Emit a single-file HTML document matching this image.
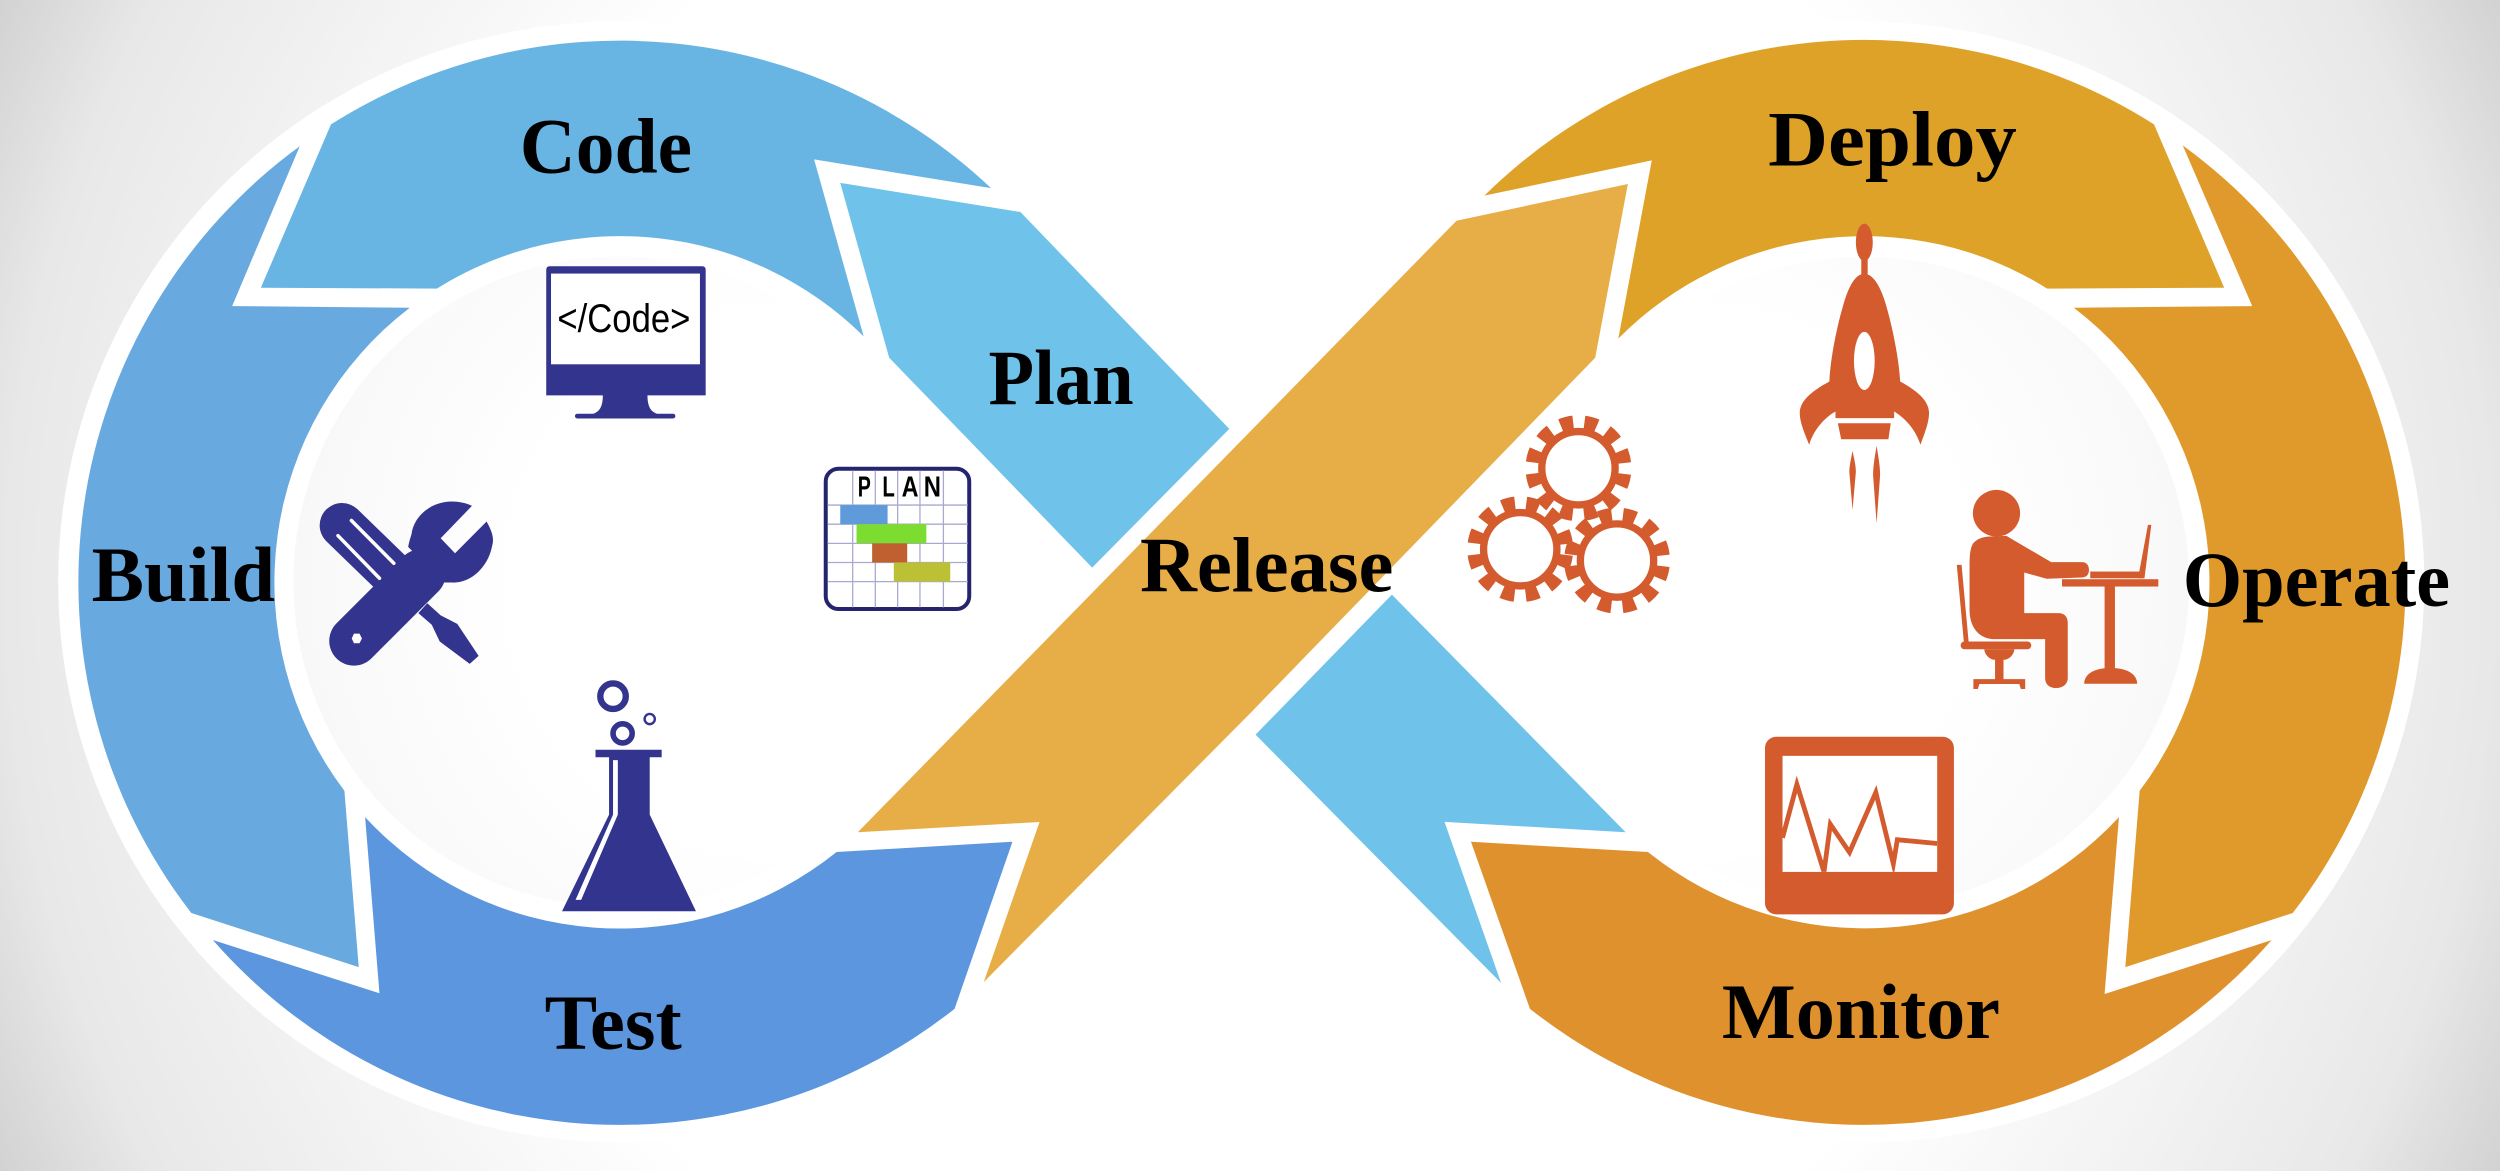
<!DOCTYPE html>
<html>
<head>
<meta charset="utf-8">
<title>DevOps lifecycle</title>
<style>
html,body{margin:0;padding:0;width:2500px;height:1171px;overflow:hidden;background:#fff}
.bg{position:absolute;left:0;top:0;width:2500px;height:1171px;background:radial-gradient(circle farthest-corner at center,#fff 58%,#e8e8e8 90%,#d2d2d2 100%)}
svg{position:absolute;left:0;top:0}
.t{font-family:"Liberation Serif",serif;font-weight:bold;font-size:49px;fill:#000}
.p{font-family:"Liberation Sans",sans-serif;font-weight:bold;font-size:18px;fill:#000}
</style>
</head>
<body>
<div class="bg"></div>
<svg width="2500" height="1171" viewBox="0 0 1568 734.5" preserveAspectRatio="none">
<defs>
<radialGradient id="gl" gradientUnits="userSpaceOnUse" cx="490" cy="365" r="306">
<stop offset="0.55" stop-color="#fff"/><stop offset="1" stop-color="#f8f8f8"/></radialGradient>
<radialGradient id="gr" gradientUnits="userSpaceOnUse" cx="1067" cy="365" r="306">
<stop offset="0.55" stop-color="#fff"/><stop offset="1" stop-color="#f8f8f8"/></radialGradient>
<clipPath id="scr"><rect x="1118" y="474.1" width="97" height="72.8"/></clipPath>
</defs>

<!-- halo -->
<circle cx="388" cy="365" r="351.5" fill="#fff"/>
<circle cx="1169" cy="365" r="351.5" fill="#fff"/>
<circle cx="388" cy="365" r="204" fill="url(#gl)"/>
<circle cx="1169" cy="365" r="204" fill="url(#gr)"/>

<!-- left lobe -->
<path fill="#68b5e4" d="M207.6 78A339 339 0 0 1 621.6 118L510.6 100L541.7 211A217 217 0 0 0 274 181L163.6 180.5Z"/>
<path fill="#6fc2e9" d="M527 114.7L640 133L771 269L685 356L557.7 224.4Z"/>
<path fill="#68a9e0" d="M188 91.7L145.6 192L257 193A217 217 0 0 0 216 496L225 606.6L120 572.7A339 339 0 0 1 188 91.7Z"/>
<path fill="#5c96df" d="M133.5 589.6L238 623L229 512.5A217 217 0 0 0 524.7 534.4L635 528L598.7 632.8A339 339 0 0 1 133.5 589.6Z"/>

<!-- centre -->
<path fill="#e7ae48" d="M913.5 138.5L1021 115.4L1000.5 224.4L784 447.5L617 616L652 515.6L538 522Z"/>
<path fill="#6fc2e9" d="M873 373L1019.6 522L906 515.5L941.5 616.6L787.5 460.8Z"/>

<!-- right lobe -->
<path fill="#dfa229" d="M931 122.7A339 339 0 0 1 1351 78L1395 180.5L1284 181A217 217 0 0 0 1015 212.4L1036 100.6Z"/>
<path fill="#e09a2b" d="M1369 91.2L1412.6 192L1300.7 193A217 217 0 0 1 1342 496L1333 606.6L1438 572.7A339 339 0 0 0 1369 91.2Z"/>
<path fill="#df912e" d="M922.6 528L1033.6 534.4A217 217 0 0 0 1329 512.5L1320 623.5L1424.7 589.7A339 339 0 0 1 959.6 632.8Z"/>

<!-- monitor (code) icon -->
<path fill="#33348e" d="M342.6 169a2 2 0 0 1 2-2h96a2 2 0 0 1 2 2v79h-36.500c0 5 1 10 6 11.500h10a1.500 1.500 0 0 1 0 3h-60a1.500 1.500 0 0 1 0-3h10c5-1.500 6-6.500 6-11.500h-35.500Z"/>
<rect x="345.6" y="171.6" width="93.4" height="56.900" fill="#fff"/>
<text x="349.6" y="208.4" font-family="'Liberation Sans',sans-serif" font-size="25" textLength="83.400" lengthAdjust="spacingAndGlyphs" fill="#000">&lt;/Code&gt;</text>

<!-- plan icon -->
<rect x="517.9" y="294" width="90" height="88" rx="8" fill="#fff" stroke="#25256f" stroke-width="2.500"/>
<g stroke="#a9a9d0" stroke-width="0.8" fill="none">
<path d="M534.8 295V381M549 295V381M563 295V381M577 295V381M591.700 295V381"/>
<path d="M519 316.800H607M519 328.800H607M519 340.800H607M519 352.800H607M519 364.800H607"/>
</g>
<rect x="527" y="316.800" width="29.700" height="12" fill="#5f9bdb"/>
<rect x="537.2" y="328.800" width="43.800" height="12" fill="#7cdc30"/>
<rect x="547" y="340.800" width="22" height="12" fill="#c06030"/>
<rect x="560.6" y="352.800" width="35.400" height="12" fill="#bcc034"/>
<text class="p" x="538" y="311.500" textLength="8.200" lengthAdjust="spacingAndGlyphs">P</text>
<text class="p" x="553.4" y="311.500" textLength="7.800" lengthAdjust="spacingAndGlyphs">L</text>
<text class="p" x="565.5" y="311.500" textLength="10.600" lengthAdjust="spacingAndGlyphs">A</text>
<text class="p" x="579.4" y="311.500" textLength="10.800" lengthAdjust="spacingAndGlyphs">N</text>

<!-- tools icon -->
<line x1="214.5" y1="329.500" x2="248" y2="362" stroke="#33348e" stroke-width="28" stroke-linecap="round"/>
<path fill="#33348e" d="M268 378.400L276.400 386L286.800 391.300L300.200 411.400L294.600 416.400L275.800 402.400L270.800 391.900L262.400 384.600Z"/>
<line x1="222" y1="402" x2="264" y2="360" stroke="#33348e" stroke-width="31" stroke-linecap="round"/>
<path fill="#33348e" d="M296 317.300L276.400 337.600L285.400 347L305.200 327.100C309 334 310 338 308.600 342.700C306 356 295 366 283.400 365.400H278L256 343C257 338 258 336 258.200 334.500C260 323 271 314.600 283.400 314.600C288 314.600 292 315.500 296 317.300Z"/>
<path stroke="#fff" stroke-width="2.200" stroke-linecap="round" d="M220.400 326.500L247 353.300M212 336L238 362.700" fill="none"/>
<path fill="#fff" d="M222 397.400L225.500 397.400L227 400.500L225.500 403.500L222 403.500L220.600 400.500Z"/>

<!-- flask icon -->
<g fill="none" stroke="#33348e">
<circle cx="384.500" cy="436.700" r="8" stroke-width="4"/>
<circle cx="390.500" cy="460" r="6" stroke-width="3.500"/>
<circle cx="407.500" cy="451" r="3.200" stroke-width="1.500"/>
</g>
<path fill="#33348e" d="M373.500 470.300H415V475H407.500V511L436.500 571.600H352.500L382 511V475H373.500Z"/>
<path fill="#fff" d="M384.500 476.800H387.500V511L364.500 564.400H361L384.500 511Z"/>

<!-- rocket icon -->
<g fill="#d45b2d">
<ellipse cx="1169.3" cy="152" rx="5.300" ry="11.700"/>
<rect x="1167.4" y="160" width="4" height="13"/>
<path d="M1169.300 171.800C1175 171.800 1179.500 180 1182.500 190C1187 205 1191 225 1191.800 239.300C1202 245 1209.900 251 1209.900 259.200C1209.900 265 1207 272 1204.500 279C1201 268 1193 261 1188 258.100V262.300H1151.200V258.100C1146 261 1138 268 1134.700 279C1132 272 1128.800 265 1128.800 259.200C1128.800 251 1137 245 1147.400 239.300C1148 225 1152 205 1156.500 190C1159.500 180 1163.500 171.800 1169.300 171.800Z"/>
<path d="M1152.700 265.500H1185.900L1184.400 275.500H1154.800Z"/>
<path d="M1161.900 282.800C1163 288 1164 292 1164 296L1161.900 319.800L1159.900 296C1159.900 292 1161 288 1161.900 282.800Z"/>
<path d="M1177 279.500C1178 286 1179.200 292 1179.200 298L1177 328.200L1174.800 298C1174.800 292 1176 286 1177 279.500Z"/>
</g>
<ellipse cx="1169.3" cy="226.400" rx="6.500" ry="18.200" fill="#fff"/>

<!-- gears -->
<g fill="none" stroke="#d45b2d">
<g transform="translate(990 293.700)"><circle r="23" stroke-width="4.600"/><circle r="29" stroke-width="8.400" stroke-dasharray="8 7.185" stroke-dashoffset="-3.590"/></g>
<g transform="translate(953.500 344.500)"><circle r="23" stroke-width="4.600"/><circle r="29" stroke-width="8.400" stroke-dasharray="8 7.185" stroke-dashoffset="-3.590"/></g>
<g transform="translate(1014.200 351.600)"><circle r="23" stroke-width="4.600"/><circle r="29" stroke-width="8.400" stroke-dasharray="8 7.185" stroke-dashoffset="-3.590"/></g>
</g>

<!-- person -->
<g fill="#d45b2d">
<ellipse cx="1252.2" cy="321.900" rx="14.800" ry="14.600"/>
<path d="M1258.400 336.100L1286.500 352.600H1305.800C1309 352.600 1310.200 355 1310.200 357.400C1310.200 360 1309 362.200 1305.800 362.200L1283.600 363L1269.600 359.100V384.600H1291C1295 384.600 1296.900 387 1296.900 390.900V425.300C1296.900 429 1294 431.600 1289.500 431.600C1285 431.600 1282.700 429 1282.700 425.300V400.900H1251C1241 400.900 1235.300 393 1235.300 382.500V355.300C1235.300 347 1236 343 1237.700 340.700C1240 338 1244 336.500 1248 336.500Z"/>
<path d="M1227.300 354.300L1230.300 354.300L1234.700 402.400L1231.700 402.400Z"/>
<rect x="1229.700" y="402.400" width="44.300" height="4.800" rx="2.400"/>
<path d="M1244.500 407.200H1263.400C1263 411 1260 413.800 1256.600 413.800H1251.300C1248 413.800 1245 411 1244.500 407.200Z"/>
<rect x="1251.300" y="413" width="5.300" height="14"/>
<path d="M1237.700 426H1270.200V432.200H1267.500L1266.500 429H1241.500L1240.500 432.200H1237.700Z"/>
<rect x="1293.300" y="363.300" width="60.400" height="4.600"/>
<rect x="1320" y="367" width="6.500" height="53"/>
<path d="M1307.200 428.900C1307.200 423 1313 419 1323.800 419C1334.500 419 1340.400 423 1340.400 428.900Z"/>
<rect x="1311" y="358.500" width="33.200" height="4.200"/>
<path d="M1341 362.700L1347.200 329.200H1349.300L1345 362.700Z"/>
</g>

<!-- chart monitor -->
<rect x="1107" y="462.100" width="118.500" height="111.400" rx="7" fill="#d45b2d"/>
<rect x="1118" y="474.100" width="97" height="72.800" fill="#fff"/>
<polyline clip-path="url(#scr)" points="1118,525.500 1127,492 1144,546.900 1148,517 1160,534.600 1176.500,497 1187.500,541.800 1190,526.700 1215,529.100" fill="none" stroke="#d45b2d" stroke-width="3" stroke-miterlimit="10"/>

<!-- labels -->
<text class="t" x="326" y="108.300" textLength="108" lengthAdjust="spacingAndGlyphs">Code</text>
<text class="t" x="620" y="253.500" textLength="91" lengthAdjust="spacingAndGlyphs">Plan</text>
<text class="t" x="57.500" y="377" textLength="115" lengthAdjust="spacingAndGlyphs">Build</text>
<text class="t" x="341.600" y="658" textLength="86" lengthAdjust="spacingAndGlyphs">Test</text>
<text class="t" x="715" y="371" textLength="159" lengthAdjust="spacingAndGlyphs">Release</text>
<text class="t" x="1109" y="103.700" textLength="156" lengthAdjust="spacingAndGlyphs">Deploy</text>
<text class="t" x="1369" y="380" textLength="167.700" lengthAdjust="spacingAndGlyphs">Operate</text>
<text class="t" x="1080" y="651" textLength="174.400" lengthAdjust="spacingAndGlyphs">Monitor</text>
</svg>
</body>
</html>
